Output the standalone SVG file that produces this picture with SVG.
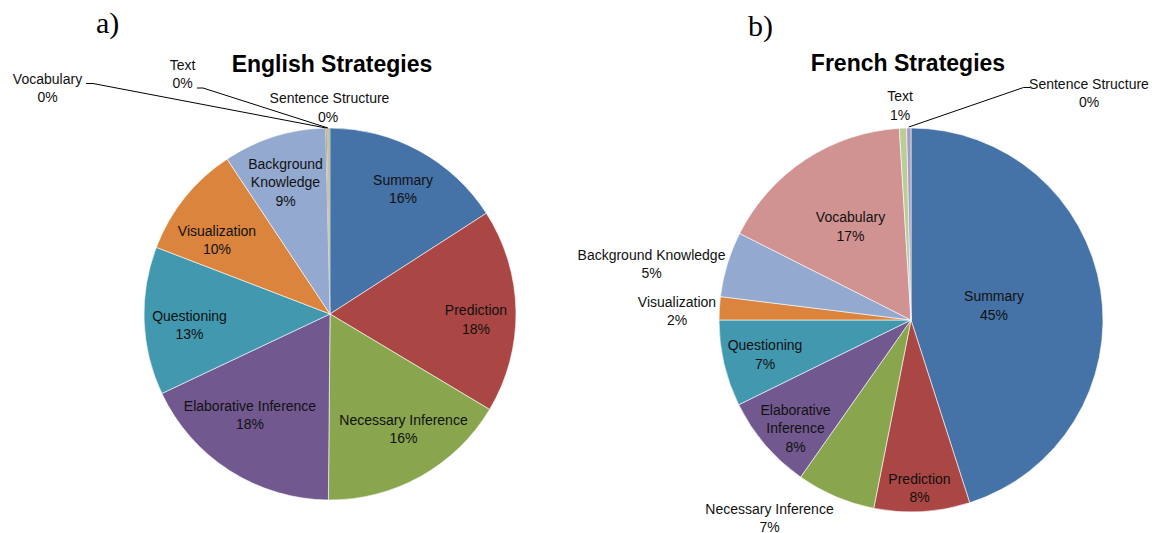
<svg xmlns="http://www.w3.org/2000/svg" width="1152" height="533" viewBox="0 0 1152 533">
<style>
.lbl{font-family:"Liberation Sans",Arial,sans-serif;font-size:14px;fill:#111;text-anchor:middle}
.ttl{font-family:"Liberation Sans",Arial,sans-serif;font-size:23px;font-weight:bold;fill:#000;text-anchor:middle}
.tag{font-family:"Liberation Serif","Times New Roman",serif;font-size:30px;fill:#000}
.sl{stroke:#fff;stroke-width:0.6;stroke-linejoin:round}
.c1{fill:#4572A7}.c2{fill:#AA4643}.c3{fill:#89A54E}.c4{fill:#71588F}.c5{fill:#4198AF}
.c6{fill:#DB843D}.c7{fill:#93A9CF}.c8{fill:#D19392}.c9{fill:#B9CD96}.c10{fill:#A99BBD}
.ld{fill:none;stroke:#000;stroke-width:1}
</style>
<rect width="1152" height="533" fill="#fff"/>

<text class="tag" x="96" y="33">a)</text>
<text class="tag" x="748" y="36">b)</text>
<text class="ttl" x="332" y="72">English Strategies</text>
<text class="ttl" x="908" y="70.5">French Strategies</text>

<!-- English pie -->
<g id="en-summary"><path class="sl c1" d="M330,314 L330,128 A186,186 0 0 1 486.35,213.24 Z"/><text class="lbl" x="403" y="184.5">Summary</text><text class="lbl" x="403" y="203">16%</text></g>
<g id="en-prediction"><path class="sl c2" d="M330,314 L486.35,213.24 A186,186 0 0 1 489.6,409.5 Z"/><text class="lbl" x="476" y="315">Prediction</text><text class="lbl" x="476" y="333.5">18%</text></g>
<g id="en-necessary"><path class="sl c3" d="M330,314 L489.6,409.5 A186,186 0 0 1 328.38,500 Z"/><text class="lbl" x="403.5" y="424.5">Necessary Inference</text><text class="lbl" x="403.5" y="443">16%</text></g>
<g id="en-elaborative"><path class="sl c4" d="M330,314 L328.38,500 A186,186 0 0 1 161.84,393.5 Z"/><text class="lbl" x="250" y="410.5">Elaborative Inference</text><text class="lbl" x="250" y="429">18%</text></g>
<g id="en-questioning"><path class="sl c5" d="M330,314 L161.84,393.5 A186,186 0 0 1 156.35,247.34 Z"/><text class="lbl" x="189.5" y="320.5">Questioning</text><text class="lbl" x="189.5" y="339">13%</text></g>
<g id="en-visualization"><path class="sl c6" d="M330,314 L156.35,247.34 A186,186 0 0 1 227.07,159.08 Z"/><text class="lbl" x="217" y="235.5">Visualization</text><text class="lbl" x="217" y="254">10%</text></g>
<g id="en-background"><path class="sl c7" d="M330,314 L227.07,159.08 A186,186 0 0 1 325.68,128.05 Z"/><text class="lbl" x="285.5" y="168.5">Background</text><text class="lbl" x="285.5" y="187">Knowledge</text><text class="lbl" x="285.5" y="205.5">9%</text></g>
<g id="en-vocabulary"><path class="c8" d="M330,314 L325.68,128.05 A186,186 0 0 1 326.69,128.03 Z"/><text class="lbl" x="47.5" y="83.5">Vocabulary</text><text class="lbl" x="47.5" y="102">0%</text></g>
<g id="en-text"><path class="c9" d="M330,314 L326.69,128.03 A186,186 0 0 1 329.29,128 Z"/><text class="lbl" x="182.5" y="69.5">Text</text><text class="lbl" x="182.5" y="88">0%</text></g>
<g id="en-sentence"><path class="c10" d="M330,314 L329.29,128 A186,186 0 0 1 330,128 Z"/><text class="lbl" x="329.5" y="103">Sentence Structure</text><text class="lbl" x="328" y="121.5">0%</text></g>

<!-- French pie -->
<g id="fr-summary"><path class="sl c1" d="M911,320 L911,128 A192,192 0 0 1 969.7,502.8 Z"/><text class="lbl" x="994" y="301">Summary</text><text class="lbl" x="994" y="319.5">45%</text></g>
<g id="fr-prediction"><path class="sl c2" d="M911,320 L969.7,502.8 A192,192 0 0 1 873.71,508.35 Z"/><text class="lbl" x="919.5" y="483.5">Prediction</text><text class="lbl" x="919.5" y="502">8%</text></g>
<g id="fr-necessary"><path class="sl c3" d="M911,320 L873.71,508.35 A192,192 0 0 1 800.6,477.08 Z"/><text class="lbl" x="769.5" y="514">Necessary Inference</text><text class="lbl" x="769.5" y="531.5">7%</text></g>
<g id="fr-elaborative"><path class="sl c4" d="M911,320 L800.6,477.08 A192,192 0 0 1 738.72,404.77 Z"/><text class="lbl" x="795.5" y="414.5">Elaborative</text><text class="lbl" x="795.5" y="433">Inference</text><text class="lbl" x="795.5" y="451.5">8%</text></g>
<g id="fr-questioning"><path class="sl c5" d="M911,320 L738.72,404.77 A192,192 0 0 1 719,320 Z"/><text class="lbl" x="765" y="350">Questioning</text><text class="lbl" x="765" y="368.5">7%</text></g>
<g id="fr-visualization"><path class="sl c6" d="M911,320 L719,320 A192,192 0 0 1 720.44,296.6 Z"/><text class="lbl" x="677" y="306.5">Visualization</text><text class="lbl" x="677" y="325">2%</text></g>
<g id="fr-background"><path class="sl c7" d="M911,320 L720.44,296.6 A192,192 0 0 1 739.62,233.43 Z"/><text class="lbl" x="651.5" y="259.5">Background Knowledge</text><text class="lbl" x="651.5" y="278">5%</text></g>
<g id="fr-vocabulary"><path class="sl c8" d="M911,320 L739.62,233.43 A192,192 0 0 1 899.28,128.36 Z"/><text class="lbl" x="850.5" y="222">Vocabulary</text><text class="lbl" x="850.5" y="240.5">17%</text></g>
<g id="fr-text"><path class="sl c9" d="M911,320 L899.28,128.36 A192,192 0 0 1 906.64,128.05 Z"/><text class="lbl" x="900" y="101">Text</text><text class="lbl" x="900" y="119.5">1%</text></g>
<g id="fr-sentence"><path class="sl c10" d="M911,320 L906.64,128.05 A192,192 0 0 1 911,128 Z"/><text class="lbl" x="1089" y="89">Sentence Structure</text><text class="lbl" x="1089" y="107">0%</text></g>

<g id="connectors">
<polyline class="ld" points="86,83.5 93,83.5 326.2,128"/>
<polyline class="ld" points="197,88 203,88 328,128"/>
<polyline class="ld" points="908.8,127 1023.5,87.5 1030,87.5"/>
</g>
</svg>
